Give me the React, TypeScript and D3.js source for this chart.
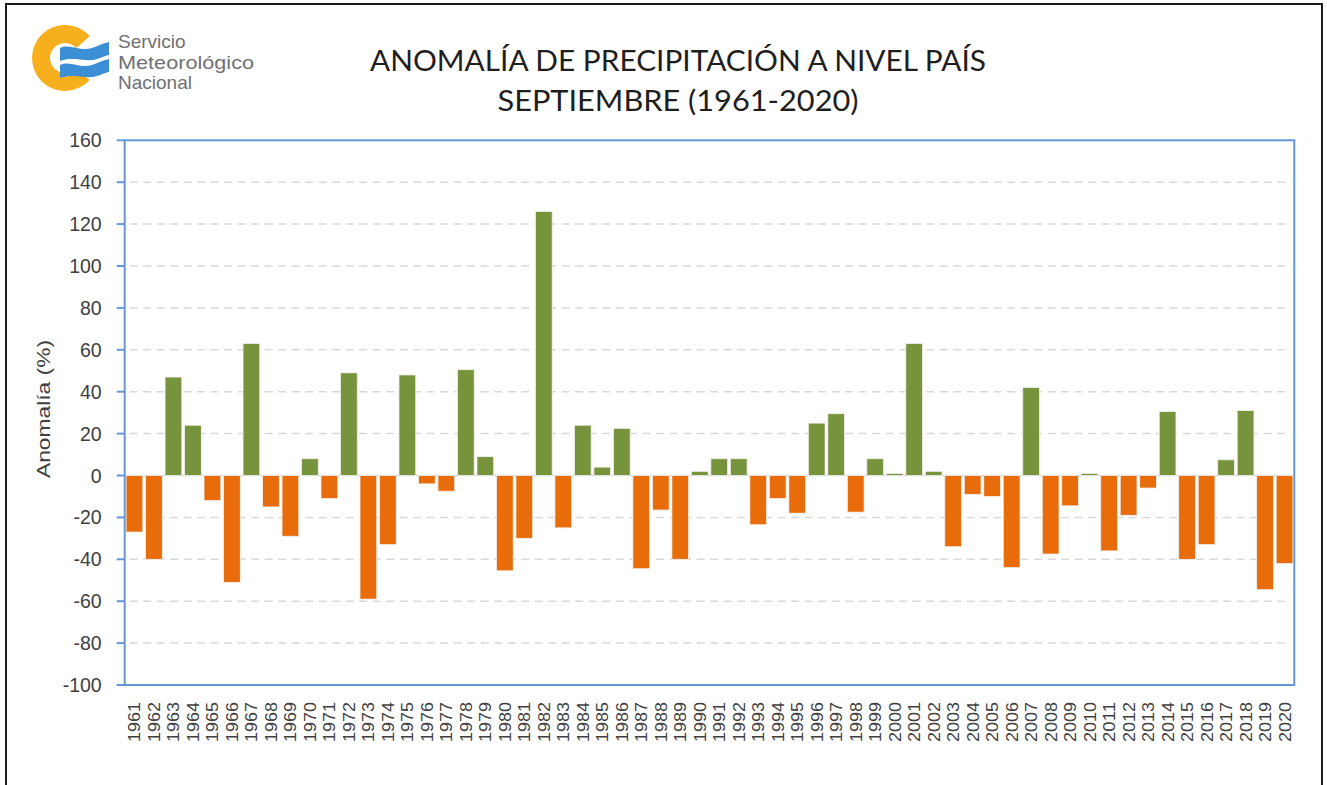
import * as d3 from "d3";

// Septiembre precipitation anomaly (%) by year, country-wide
const years = [
  "1961", "1962", "1963", "1964", "1965", "1966", "1967", "1968", "1969", "1970",
  "1971", "1972", "1973", "1974", "1975", "1976", "1977", "1978", "1979", "1980",
  "1981", "1982", "1983", "1984", "1985", "1986", "1987", "1988", "1989", "1990",
  "1991", "1992", "1993", "1994", "1995", "1996", "1997", "1998", "1999", "2000",
  "2001", "2002", "2003", "2004", "2005", "2006", "2007", "2008", "2009", "2010",
  "2011", "2012", "2013", "2014", "2015", "2016", "2017", "2018", "2019", "2020",
];

const anomalies = [
  -27, -40, 47, 24, -12, -51, 63, -15, -29, 8,
  -11, 49, -59, -33, 48, -4, -7.5, 50.5, 9, -45.5,
  -30, 126, -25, 24, 4, 22.5, -44.5, -16.5, -40, 2,
  8, 8, -23.5, -11, -18, 25, 29.5, -17.5, 8, 1,
  63, 2, -34, -9, -10, -44, 42, -37.5, -14.5, 1,
  -36, -19, -6, 30.5, -40, -33, 7.5, 31, -54.5, -42,
];

const yTicks = [160, 140, 120, 100, 80, 60, 40, 20, 0, -20, -40, -60, -80, -100];

const titleLines = ["ANOMALÍA DE PRECIPITACIÓN A NIVEL PAÍS", "SEPTIEMBRE (1961-2020)"];
const logoLines = ["Servicio", "Meteorológico", "Nacional"];

const W = 1327;
const H = 785;
const plot = { left: 124.7, right: 1294.3, top: 140.3, bottom: 685 };

const GREEN = "#77933C";
const ORANGE = "#E86C0A";
const BLUE = "#6597D6";
const GRID = "#D9D9D9";
const TEXT = "#404040";

function Logo() {
  const ring = d3.arc()({
    innerRadius: 15,
    outerRadius: 33,
    startAngle: 2.3,
    endAngle: Math.PI * 2 + 0.85,
  } as any);
  const wave = (dy: number) =>
    `M60,${48 + dy} C70,${43 + dy} 80,${52 + dy} 92,${48 + dy} C100,${45 + dy} 104,${43 + dy} 109,${42 + dy} ` +
    `L109,${55 + dy} C102,${56 + dy} 98,${61 + dy} 86,${60 + dy} C74,${59 + dy} 68,${58 + dy} 60,${61 + dy} Z`;
  return (
    <g>
      <path d={ring ?? ""} transform="translate(65,58)" fill="#F8AF1E" />
      <path d={wave(0)} fill="#3C8ED5" />
      <path d={wave(17)} fill="#3C8ED5" />
      {logoLines.map((t, i) => (
        <text
          key={t}
          x={118}
          y={48 + i * 20.5}
          fontFamily="Liberation Sans, Arial, sans-serif"
          fontSize={19}
          fill="#707174"
          textLength={t === "Meteorológico" ? 136 : undefined}
          lengthAdjust="spacingAndGlyphs"
        >
          {t}
        </text>
      ))}
    </g>
  );
}

export default function App() {
  const x = d3
    .scaleBand<string>()
    .domain(years)
    .range([plot.left, plot.right])
    .paddingInner(0.14)
    .paddingOuter(0.07);
  const y = d3.scaleLinear().domain([-100, 160]).range([plot.bottom, plot.top]);
  const y0 = y(0);

  return (
    <div style={{ position: "absolute", left: 0, top: 0 }}>
      <svg width={W} height={H} viewBox={`0 0 ${W} ${H}`} style={{ display: "block" }}>
        <rect x={0} y={0} width={W} height={H} fill="#fff" />
        <rect x={6} y={4} width={1316} height={800} fill="none" stroke="#1a1a1a" strokeWidth={2} />

        <Logo />

        {titleLines.map((t, i) => (
          <text
            key={t}
            x={678}
            y={i === 0 ? 71 : 111}
            textAnchor="middle"
            fontFamily="Lato, 'Open Sans', sans-serif"
            fontSize={28}
            fill="#1e1e1e"
            textLength={i === 0 ? 616 : 361}
            lengthAdjust="spacingAndGlyphs"
          >
            {t}
          </text>
        ))}

        {/* gridlines */}
        {yTicks
          .filter((v) => v !== 160 && v !== -100 && v !== 0)
          .map((v) => (
            <line
              key={v}
              x1={plot.left + 5}
              x2={plot.right - 6}
              y1={y(v)}
              y2={y(v)}
              stroke={GRID}
              strokeWidth={1.5}
              strokeDasharray="8,5.5"
            />
          ))}
        <line x1={plot.left} x2={plot.right} y1={y0} y2={y0} stroke={GRID} strokeWidth={1.5} />

        {/* bars */}
        {years.map((yr, i) => {
          const v = anomalies[i];
          return (
            <rect
              key={yr}
              x={x(yr)}
              width={x.bandwidth()}
              y={Math.min(y(v), y0)}
              height={Math.abs(y(v) - y0)}
              fill={v >= 0 ? GREEN : ORANGE}
              stroke="#f2f2f2"
              strokeWidth={0.8}
            />
          );
        })}

        {/* plot frame */}
        <rect
          x={plot.left}
          y={plot.top}
          width={plot.right - plot.left}
          height={plot.bottom - plot.top}
          fill="none"
          stroke={BLUE}
          strokeWidth={2}
        />

        {/* y axis ticks & labels */}
        {yTicks.map((v) => (
          <g key={v}>
            <line x1={plot.left - 8} x2={plot.left} y1={y(v)} y2={y(v)} stroke={BLUE} strokeWidth={2} />
            <text
              x={plot.left - 23}
              y={y(v)}
              dy="0.36em"
              textAnchor="end"
              fontFamily="Liberation Sans, Arial, sans-serif"
              fontSize={19.5}
              fill={TEXT}
            >
              {v}
            </text>
          </g>
        ))}

        <text
          transform={`translate(44,409) rotate(-90)`}
          textAnchor="middle"
          dy="0.36em"
          fontFamily="Liberation Sans, Arial, sans-serif"
          fontSize={18}
          fill={TEXT}
          textLength={138}
          lengthAdjust="spacingAndGlyphs"
        >
          Anomalía (%)
        </text>

        {/* x labels */}
        {years.map((yr) => {
          const cx = (x(yr) ?? 0) + x.bandwidth() / 2;
          return (
            <text
              key={yr}
              transform={`translate(${cx},702) rotate(-90)`}
              textAnchor="end"
              dy="0.36em"
              fontFamily="Liberation Sans, Arial, sans-serif"
              fontSize={16.5}
              fill={TEXT}
              textLength={40}
              lengthAdjust="spacingAndGlyphs"
            >
              {yr}
            </text>
          );
        })}
      </svg>
    </div>
  );
}
